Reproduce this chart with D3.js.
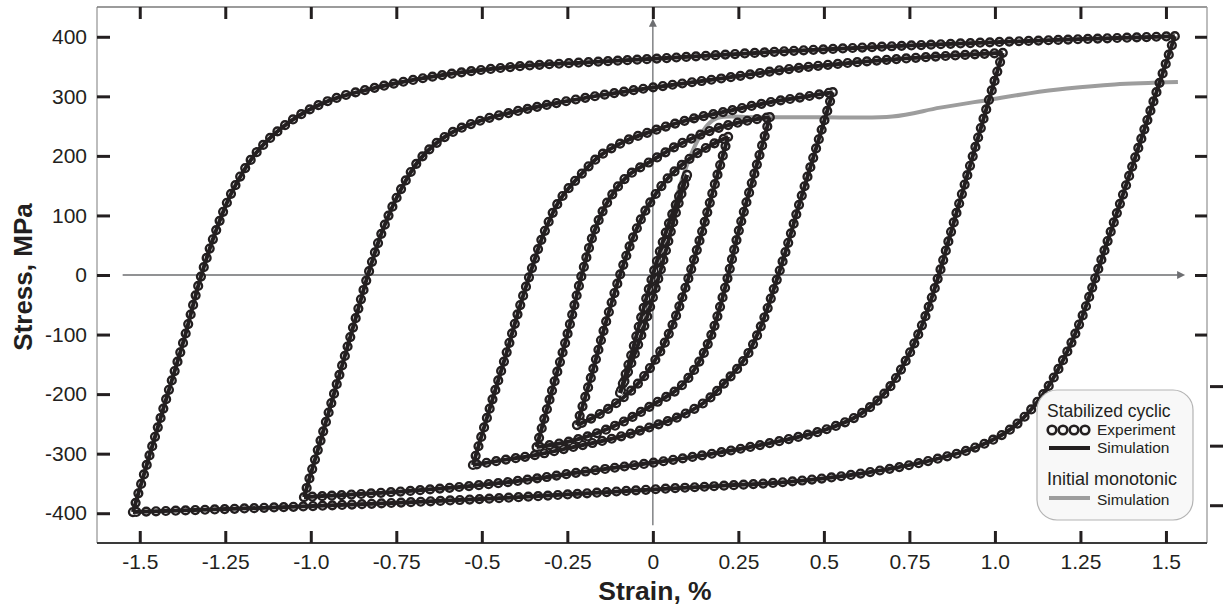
<!DOCTYPE html>
<html>
<head>
<meta charset="utf-8">
<script src="https://cdn.jsdelivr.net/npm/d3@7"></script>
<style>
  body { margin: 0; background: #fff; }
  text { font-family: "Liberation Sans", Arial, sans-serif; fill: #231f20; }
</style>
</head>
<body>
<svg id="chart" width="1223" height="608"></svg>
<script>
// axis ticks
const xTicks = [-1.5, -1.25, -1.0, -0.75, -0.5, -0.25, 0, 0.25, 0.5, 0.75, 1.0, 1.25, 1.5];
const xTickLabels = ["-1.5", "-1.25", "-1.0", "-0.75", "-0.5", "-0.25", "0", "0.25", "0.5", "0.75", "1.0", "1.25", "1.5"];
const yTicks = [400, 300, 200, 100, 0, -100, -200, -300, -400];
const rightInnerTicks = [400, 300, 200, 100, 0, -100];
const rightOuterTicks = [-200, -300, -400];

// stabilized cyclic loops [strain %, stress MPa]
const loop1Up = [[-1.52,-398],[-1.47,-300],[-1.42,-203],[-1.37,-107],[-1.325,-10],[-1.28,70],[-1.23,140],[-1.16,205],[-1.06,258],[-0.95,292],[-0.8,316],[-0.6,337],[-0.4,350],[-0.2,357],[0,363],[0.43,377],[1.0,391],[1.526,401]];
const loop1Down = [[1.526,401],[1.47,303],[1.415,206],[1.36,110],[1.305,15],[1.255,-70],[1.2,-142],[1.135,-205],[1.05,-257],[0.95,-288],[0.8,-313],[0.6,-334],[0.4,-347],[0.2,-354],[0,-360],[-0.424,-374],[-0.994,-388],[-1.52,-398]];
const loop2Up = [[-1.02,-373],[-0.97,-275],[-0.92,-175],[-0.87,-75],[-0.833,0],[-0.79,75],[-0.74,140],[-0.68,195],[-0.6,235],[-0.5,260],[-0.39,276],[-0.27,290],[-0.15,302],[0,315],[0.2,330],[0.43,348],[0.7,362],[1.023,373]];
const loop2Down = [[1.023,373],[0.973,275],[0.923,175],[0.873,75],[0.836,0],[0.793,-75],[0.743,-140],[0.683,-195],[0.603,-235],[0.503,-260],[0.393,-276],[0.273,-290],[0.153,-302],[0.003,-315],[-0.197,-330],[-0.427,-348],[-0.697,-362],[-1.02,-373]];
const loop3Up = [[-0.526,-319],[-0.48,-230],[-0.43,-135],[-0.39,-55],[-0.36,0],[-0.32,68],[-0.272,126],[-0.2,175],[-0.155,200],[-0.08,225],[0,242],[0.1,260],[0.234,277],[0.35,291],[0.43,298],[0.526,307]];
const loop3Down = [[0.526,307],[0.48,218],[0.43,123],[0.39,43],[0.36,-12],[0.32,-80],[0.272,-138],[0.2,-187],[0.155,-212],[0.08,-237],[0,-254],[-0.1,-272],[-0.234,-289],[-0.35,-303],[-0.43,-310],[-0.526,-319]];
const loop4Up = [[-0.34,-289],[-0.3,-205],[-0.25,-100],[-0.208,0],[-0.17,75],[-0.13,125],[-0.076,165],[0,193],[0.08,220],[0.167,242],[0.25,256],[0.342,265]];
const loop4Down = [[0.342,265],[0.302,181],[0.252,76],[0.21,-24],[0.172,-99],[0.132,-149],[0.078,-189],[0.002,-217],[-0.078,-244],[-0.165,-266],[-0.248,-280],[-0.34,-289]];
const loop5Up = [[-0.222,-252],[-0.18,-170],[-0.14,-85],[-0.096,0],[-0.06,60],[-0.02,110],[0.04,160],[0.1,192],[0.16,215],[0.22,232]];
const loop5Down = [[0.22,232],[0.18,150],[0.14,65],[0.096,-20],[0.06,-80],[0.02,-130],[-0.04,-180],[-0.1,-212],[-0.16,-235],[-0.222,-252]];
const loop6Up = [[-0.096,-198],[-0.06,-128],[-0.03,-62],[0,0],[0.04,75],[0.075,130],[0.1,168]];
const loop6Down = [[0.1,168],[0.064,98],[0.034,32],[0.004,-30],[-0.036,-105],[-0.071,-160],[-0.096,-198]];

// initial monotonic simulation
const monotonic = [[0,0],[0.05,95],[0.1,185],[0.13,225],[0.16,252],[0.19,264],[0.3,265],[0.5,265],[0.7,266],[0.84,281],[0.98,294],[1.1,305],[1.21,313],[1.35,320],[1.535,324]];

const branches = [loop1Up, loop1Down, loop2Up, loop2Down, loop3Up, loop3Down,
                  loop4Up, loop4Down, loop5Up, loop5Down, loop6Up, loop6Down];

const W = 1223, H = 608;
const ink = '#231f20';
const svg = d3.select('#chart');

const x = d3.scaleLinear().domain([-1.625, 1.62]).range([97, 1207]);
const y = d3.scaleLinear().domain([-450, 450]).range([543, 7]);

const defs = svg.append('defs');
defs.append('marker')
  .attr('id', 'arrow')
  .attr('viewBox', '0 0 10 10')
  .attr('refX', 1).attr('refY', 5)
  .attr('markerWidth', 9).attr('markerHeight', 8)
  .attr('markerUnits', 'userSpaceOnUse')
  .attr('orient', 'auto')
  .append('path').attr('d', 'M0,0L10,5L0,10Z').attr('fill', '#6d6e71');

// frame
svg.append('line').attr('x1', 97).attr('x2', 97).attr('y1', 7).attr('y2', 543)
  .attr('stroke', '#9a9a9a').attr('stroke-width', 1.3);
svg.append('line').attr('x1', 97).attr('x2', 1207).attr('y1', 7).attr('y2', 7)
  .attr('stroke', '#7a7a7a').attr('stroke-width', 1.3);
svg.append('line').attr('x1', 1207).attr('x2', 1207).attr('y1', 7).attr('y2', 543)
  .attr('stroke', '#9a9a9a').attr('stroke-width', 1.3);
svg.append('line').attr('x1', 97).attr('x2', 1207).attr('y1', 543).attr('y2', 543)
  .attr('stroke', '#3a3a3a').attr('stroke-width', 2);

function styleAxis(g, size) {
  g.select('.domain').remove();
  g.attr('font-family', null).attr('font-size', null);
  g.selectAll('.tick line').attr('stroke', ink).attr('stroke-width', 3);
  g.selectAll('.tick text').style('font-size', size + 'px').attr('fill', ink);
}

svg.append('g').attr('transform', 'translate(97,0)')
  .call(d3.axisLeft(y).tickValues(yTicks).tickSize(-13).tickPadding(10)
    .tickFormat(d => String(d)))
  .call(g => styleAxis(g, 21));

svg.append('g').attr('transform', 'translate(0,543)')
  .call(d3.axisBottom(x).tickValues(xTicks).tickSize(-12).tickPadding(11)
    .tickFormat((d, i) => xTickLabels[i]))
  .call(g => styleAxis(g, 21));

svg.append('g').attr('transform', 'translate(0,7)')
  .call(d3.axisTop(x).tickValues(xTicks).tickSize(-12).tickFormat(''))
  .call(g => styleAxis(g, 21));

svg.append('g').attr('transform', 'translate(1207,0)')
  .call(d3.axisRight(y).tickValues(rightInnerTicks).tickSize(-12).tickFormat(''))
  .call(g => styleAxis(g, 21));

svg.append('g').attr('transform', 'translate(1210,-8)')
  .call(d3.axisRight(y).tickValues(rightOuterTicks).tickSize(13).tickFormat(''))
  .call(g => styleAxis(g, 21));

// origin axes with arrows
svg.append('line')
  .attr('x1', x(-1.55)).attr('x2', x(1.535)).attr('y1', y(0)).attr('y2', y(0))
  .attr('stroke', '#6d6e71').attr('stroke-width', 1.3).attr('marker-end', 'url(#arrow)');
svg.append('line')
  .attr('x1', x(0)).attr('x2', x(0)).attr('y1', y(-420)).attr('y2', y(418))
  .attr('stroke', '#6d6e71').attr('stroke-width', 1.3).attr('marker-end', 'url(#arrow)');

const line = d3.line()
  .x(d => x(d[0])).y(d => y(d[1]))
  .curve(d3.curveCatmullRom.alpha(0.5));

// monotonic simulation
svg.append('path').attr('d', line(monotonic))
  .attr('fill', 'none').attr('stroke', '#9d9d9d').attr('stroke-width', 4);

// experiment rings: dotted stroke, hollowed by a mask
const mask = defs.append('mask').attr('id', 'hollow')
  .attr('maskUnits', 'userSpaceOnUse')
  .attr('x', 0).attr('y', 0).attr('width', W).attr('height', H);
mask.append('rect').attr('width', W).attr('height', H).attr('fill', '#fff');
mask.selectAll('path').data(branches).join('path')
  .attr('d', line).attr('fill', 'none')
  .attr('stroke', '#000').attr('stroke-width', 5.4)
  .attr('stroke-linecap', 'round').attr('stroke-dasharray', '0 9.8');

svg.append('g').attr('mask', 'url(#hollow)')
  .selectAll('path').data(branches).join('path')
  .attr('d', line).attr('fill', 'none')
  .attr('stroke', ink).attr('stroke-width', 10.2)
  .attr('stroke-linecap', 'round').attr('stroke-dasharray', '0 9.8');

// simulation lines
svg.append('g').selectAll('path').data(branches).join('path')
  .attr('d', line).attr('fill', 'none')
  .attr('stroke', ink).attr('stroke-width', 4)
  .attr('stroke-linejoin', 'round');

// axis titles
svg.append('text').attr('x', 655).attr('y', 600)
  .attr('text-anchor', 'middle').style('font-size', '26.5px').style('font-weight', 'bold')
  .text('Strain, %');
svg.append('text').attr('transform', 'translate(32,277) rotate(-90)')
  .attr('text-anchor', 'middle').style('font-size', '26px').style('font-weight', 'bold')
  .text('Stress, MPa');

// legend
const lg = svg.append('g').attr('transform', 'translate(1037,390)');
lg.append('rect').attr('width', 156).attr('height', 130).attr('rx', 20)
  .attr('fill', '#f8f8f8').attr('stroke', '#b4b4b4').attr('stroke-width', 1.2);
lg.append('text').attr('x', 10).attr('y', 27).style('font-size', '17.5px').text('Stabilized cyclic');
lg.selectAll('circle').data([15, 26, 37, 48]).join('circle')
  .attr('cx', d => d).attr('cy', 40).attr('r', 4.3)
  .attr('fill', 'none').attr('stroke', ink).attr('stroke-width', 2.6);
lg.append('text').attr('x', 60).attr('y', 45).style('font-size', '15.5px').text('Experiment');
lg.append('line').attr('x1', 12).attr('x2', 53).attr('y1', 58).attr('y2', 58)
  .attr('stroke', ink).attr('stroke-width', 4);
lg.append('text').attr('x', 60).attr('y', 63).style('font-size', '15.5px').text('Simulation');
lg.append('text').attr('x', 10).attr('y', 95).style('font-size', '18px').text('Initial monotonic');
lg.append('line').attr('x1', 12).attr('x2', 53).attr('y1', 108).attr('y2', 108)
  .attr('stroke', '#9d9d9d').attr('stroke-width', 4);
lg.append('text').attr('x', 60).attr('y', 115).style('font-size', '15.5px').text('Simulation');
</script>
</body>
</html>
